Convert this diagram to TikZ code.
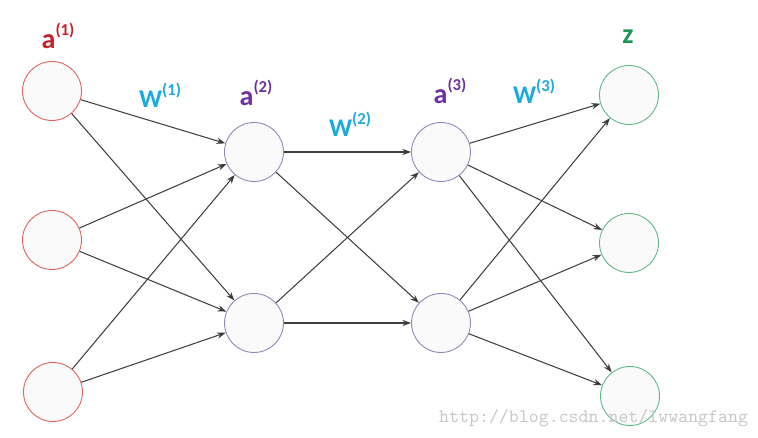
\documentclass[tikz,border=0pt]{standalone}
\usepackage{fontspec}
\setmainfont{Carlito}
\usetikzlibrary{arrows.meta}

\definecolor{inred}{RGB}{200,32,42}
\definecolor{wcyan}{RGB}{28,170,222}
\definecolor{hidpurple}{RGB}{112,48,160}
\definecolor{outgreen}{RGB}{30,150,85}
\definecolor{inborder}{RGB}{226,96,96}
\definecolor{hidborder}{RGB}{140,138,182}
\definecolor{outborder}{RGB}{96,184,136}
\definecolor{arrowgray}{RGB}{64,64,64}
\definecolor{wmgray}{RGB}{200,200,200}

\newcommand{\lyrlab}[3]{{\fontsize{#3}{#3}\selectfont\bfseries #1}{\fontsize{9.5}{9.5}\selectfont\bfseries\raisebox{7pt}{(#2)}}}

\begin{document}
\begin{tikzpicture}
  [x=0.02cm,y=-0.02cm,
   main node/.style={circle,draw,line width=0.5pt,fill=gray!4,inner sep=0pt,minimum size=1.18cm},
   in node/.style={main node,draw=inborder},
   hid node/.style={main node,draw=hidborder},
   out node/.style={main node,draw=outborder},
   main edge/.style={-{Stealth[length=5pt,width=3.6pt]},draw=arrowgray,line width=0.6pt}]
  \useasboundingbox (0,0) rectangle (758,438);

  \node[in node] (in1) at (52,91) {};
  \node[in node] (in2) at (52,240) {};
  \node[in node] (in3) at (53,392) {};
  \node[hid node] (hA1) at (254,152) {};
  \node[hid node] (hA2) at (254,323) {};
  \node[hid node] (hB1) at (441,152) {};
  \node[hid node] (hB2) at (441,323) {};
  \node[out node] (out1) at (629,95) {};
  \node[out node] (out2) at (629,243) {};
  \node[out node] (out3) at (630,396) {};

  \node[text=inred] (labin) at (58,36) {\lyrlab{a}{1}{16}};
  \node[text=wcyan] (labw1) at (160,95) {\lyrlab{W}{1}{14.5}};
  \node[text=hidpurple] (labhA) at (256,93) {\lyrlab{a}{2}{16}};
  \node[text=wcyan] (labw2) at (350,124) {\lyrlab{W}{2}{14.5}};
  \node[text=hidpurple] (labhB) at (450,91) {\lyrlab{a}{3}{16}};
  \node[text=wcyan] (labw3) at (534,91) {\lyrlab{W}{3}{14.5}};
  \node[text=outgreen] (labout) at (628,37) {\fontsize{16}{16}\selectfont\bfseries z};

  \path[] (in1) [main edge] edge (hA1);
  \path[] (in1) [main edge] edge (hA2);
  \path[] (in2) [main edge] edge (hA1);
  \path[] (in2) [main edge] edge (hA2);
  \path[] (in3) [main edge] edge (hA1);
  \path[] (in3) [main edge] edge (hA2);

  \path[] (hA1) [main edge] edge (hB1);
  \path[] (hA1) [main edge] edge (hB2);
  \path[] (hA2) [main edge] edge (hB1);
  \path[] (hA2) [main edge] edge (hB2);

  \path[] (hB1) [main edge] edge (out1);
  \path[] (hB1) [main edge] edge (out2);
  \path[] (hB1) [main edge] edge (out3);
  \path[] (hB2) [main edge] edge (out1);
  \path[] (hB2) [main edge] edge (out2);
  \path[] (hB2) [main edge] edge (out3);

  \node[text=wmgray,anchor=west] (wmark) at (433,418) {\ttfamily\fontsize{10.8}{10.8}\selectfont http://blog.csdn.net/lwwangfang};
\end{tikzpicture}
\end{document}
